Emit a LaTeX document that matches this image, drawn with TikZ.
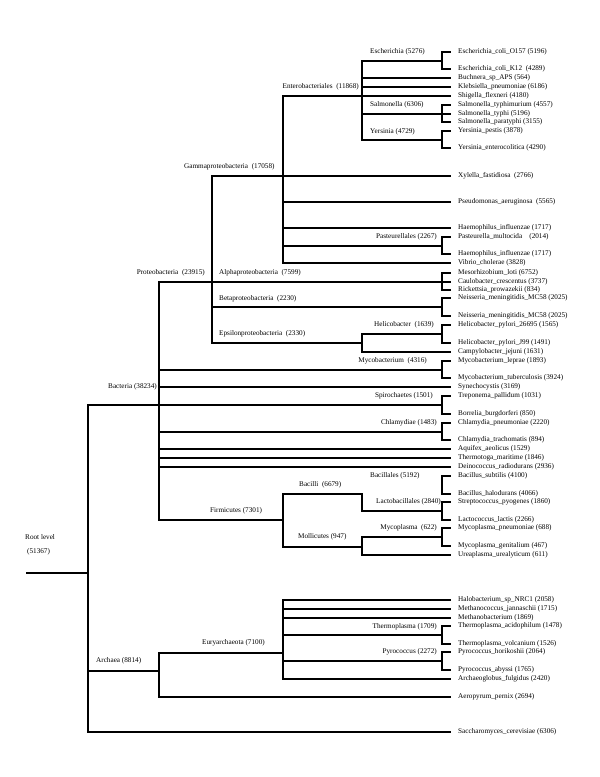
\documentclass[tikz,border=0pt]{standalone}
\usepackage{fontspec}
\setmainfont{Liberation Serif}
\usepackage{tikz}
\usetikzlibrary{calc, positioning}
\newcommand{\treefont}{\fontsize{7.2}{8}\selectfont}
\tikzset{
    leafnode/.style = {draw=none, fill=none, rectangle, anchor=west, inner xsep=8pt, inner ysep=0pt, font=\treefont},
    groupnode/.style = {draw=none, fill=none, rectangle, inner sep=0pt, font=\treefont},
    branch/.style = {black, line width=1.4pt, line cap=rect, line join=miter}
}

\begin{document}
\begin{tikzpicture}[x=1pt, y=-1pt]
\useasboundingbox (0,0) rectangle (600,777);

% leaves
\node [leafnode, name=esc1] at (450,52) {Escherichia\_coli\_O157 (5196)};
\node [leafnode, name=esc2] at (450,69) {Escherichia\_coli\_K12\ \ (4289)};
\node [leafnode, name=buch] at (450,78) {Buchnera\_sp\_APS (564)};
\node [leafnode, name=kleb] at (450,87) {Klebsiella\_pneumoniae (6186)};
\node [leafnode, name=shig] at (450,96) {Shigella\_flexneri (4180)};
\node [leafnode, name=sal1] at (450,105) {Salmonella\_typhimurium (4557)};
\node [leafnode, name=sal2] at (450,114) {Salmonella\_typhi (5196)};
\node [leafnode, name=sal3] at (450,122) {Salmonella\_paratyphi (3155)};
\node [leafnode, name=yer1] at (450,131) {Yersinia\_pestis (3878)};
\node [leafnode, name=yer2] at (450,148) {Yersinia\_enterocolitica (4290)};
\node [leafnode, name=xyl] at (450,176) {Xylella\_fastidiosa\ \ (2766)};
\node [leafnode, name=pse] at (450,202) {Pseudomonas\_aeruginosa\ \ (5565)};
\node [leafnode, name=hae1] at (450,228) {Haemophilus\_influenzae (1717)};
\node [leafnode, name=pas] at (450,237) {Pasteurella\_multocida\ \ \ \ (2014)};
\node [leafnode, name=hae2] at (450,254) {Haemophilus\_influenzae (1717)};
\node [leafnode, name=vib] at (450,263) {Vibrio\_cholerae (3828)};
\node [leafnode, name=mes] at (450,273) {Mesorhizobium\_loti (6752)};
\node [leafnode, name=cau] at (450,282) {Caulobacter\_crescentus (3737)};
\node [leafnode, name=ric] at (450,290) {Rickettsia\_prowazekii (834)};
\node [leafnode, name=nei1] at (450,298) {Neisseria\_meningitidis\_MC58 (2025)};
\node [leafnode, name=nei2] at (450,316) {Neisseria\_meningitidis\_MC58 (2025)};
\node [leafnode, name=hel1] at (450,325) {Helicobacter\_pylori\_26695 (1565)};
\node [leafnode, name=hel2] at (450,343) {Helicobacter\_pylori\_J99 (1491)};
\node [leafnode, name=cam] at (450,352) {Campylobacter\_jejuni (1631)};
\node [leafnode, name=myc1] at (450,361) {Mycobacterium\_leprae (1893)};
\node [leafnode, name=myc2] at (450,378) {Mycobacterium\_tuberculosis (3924)};
\node [leafnode, name=syn] at (450,387) {Synechocystis (3169)};
\node [leafnode, name=tre] at (450,396) {Treponema\_pallidum (1031)};
\node [leafnode, name=bor] at (450,414) {Borrelia\_burgdorferi (850)};
\node [leafnode, name=chl1] at (450,423) {Chlamydia\_pneumoniae (2220)};
\node [leafnode, name=chl2] at (450,440) {Chlamydia\_trachomatis (894)};
\node [leafnode, name=aqu] at (450,449) {Aquifex\_aeolicus (1529)};
\node [leafnode, name=thm] at (450,458) {Thermotoga\_maritime (1846)};
\node [leafnode, name=dei] at (450,467) {Deinococcus\_radiodurans (2936)};
\node [leafnode, name=bsu] at (450,476) {Bacillus\_subtilis (4100)};
\node [leafnode, name=bha] at (450,494) {Bacillus\_halodurans (4066)};
\node [leafnode, name=str] at (450,502) {Streptococcus\_pyogenes (1860)};
\node [leafnode, name=lac] at (450,520) {Lactococcus\_lactis (2266)};
\node [leafnode, name=mpn] at (450,528) {Mycoplasma\_pneumoniae (688)};
\node [leafnode, name=mge] at (450,546) {Mycoplasma\_genitalium (467)};
\node [leafnode, name=ure] at (450,555) {Ureaplasma\_urealyticum (611)};
\node [leafnode, name=hal] at (450,600) {Halobacterium\_sp\_NRC1 (2058)};
\node [leafnode, name=mja] at (450,609) {Methanococcus\_jannaschii (1715)};
\node [leafnode, name=mba] at (450,618) {Methanobacterium (1869)};
\node [leafnode, name=tac] at (450,626) {Thermoplasma\_acidophilum (1478)};
\node [leafnode, name=tvo] at (450,644) {Thermoplasma\_volcanium (1526)};
\node [leafnode, name=pho] at (450,652) {Pyrococcus\_horikoshii (2064)};
\node [leafnode, name=pab] at (450,670) {Pyrococcus\_abyssi (1765)};
\node [leafnode, name=afu] at (450,679) {Archaeoglobus\_fulgidus (2420)};
\node [leafnode, name=ape] at (450,697) {Aeropyrum\_pernix (2694)};
\node [leafnode, name=sce] at (450,732) {Saccharomyces\_cerevisiae (6306)};

% group labels
\node [groupnode, anchor=west, name=escL] at (370,52) {Escherichia (5276)};
\node [groupnode, anchor=east, name=entL] at (359,87) {Enterobacteriales\ \ (11868)};
\node [groupnode, anchor=west, name=salL] at (370,105) {Salmonella (6306)};
\node [groupnode, anchor=west, name=yerL] at (370,132) {Yersinia (4729)};
\node [groupnode, anchor=west, name=gamL] at (184,167) {Gammaproteobacteria\ \ (17058)};
\node [groupnode, anchor=east, name=pasL] at (437,237) {Pasteurellales (2267)};
\node [groupnode, anchor=east, name=proL] at (205,273) {Proteobacteria\ \ (23915)};
\node [groupnode, anchor=west, name=alpL] at (219,273) {Alphaproteobacteria\ \ (7599)};
\node [groupnode, anchor=west, name=betL] at (219,299) {Betaproteobacteria\ \ (2230)};
\node [groupnode, anchor=west, name=epsL] at (219,334) {Epsilonproteobacteria\ \ (2330)};
\node [groupnode, anchor=east, name=helL] at (434,325) {Helicobacter\ \ (1639)};
\node [groupnode, anchor=east, name=mycL] at (427,361) {Mycobacterium\ \ (4316)};
\node [groupnode, anchor=east, name=bacL] at (157,387) {Bacteria (38234)};
\node [groupnode, anchor=east, name=spiL] at (433,396) {Spirochaetes (1501)};
\node [groupnode, anchor=east, name=chlL] at (437,423) {Chlamydiae (1483)};
\node [groupnode, anchor=west, name=bllL] at (370,476) {Bacillales (5192)};
\node [groupnode, anchor=west, name=bciL] at (299,485) {Bacilli\ \ (6679)};
\node [groupnode, anchor=east, name=lacL] at (441,502) {Lactobacillales (2840)};
\node [groupnode, anchor=west, name=firL] at (210,511) {Firmicutes (7301)};
\node [groupnode, anchor=west, name=molL] at (298,537) {Mollicutes (947)};
\node [groupnode, anchor=east, name=mypL] at (437,528) {Mycoplasma\ \ (622)};
\node [groupnode, anchor=east, name=thpL] at (437,627) {Thermoplasma (1709)};
\node [groupnode, anchor=east, name=pyrL] at (437,652) {Pyrococcus (2272)};
\node [groupnode, anchor=west, name=eurL] at (202,643) {Euryarchaeota (7100)};
\node [groupnode, anchor=west, name=arcL] at (96,661) {Archaea (8814)};
\node [groupnode, anchor=west, name=rootL] at (25,537) {Root level};
\node [groupnode, anchor=west, name=rootN] at (27,552) {(51367)};

% junctions
\coordinate (rootS) at (27,573);
\coordinate (rootV) at (88,573);
\coordinate (bacV) at (159,387);
\coordinate (gamV) at (212,176);
\coordinate (entV) at (283,96);
\coordinate (genV) at (362,96);
\coordinate (epsV) at (362,343);
\coordinate (firV) at (283,520);
\coordinate (bciV) at (362,494);
\coordinate (molV) at (362,547);
\coordinate (arcV) at (159,671);
\coordinate (eurV) at (283,653);

% brackets
\coordinate (escB) at (442,61);
\coordinate (salB) at (442,114);
\coordinate (yerB) at (442,140);
\coordinate (pasB) at (442,246);
\coordinate (alpB) at (442,282);
\coordinate (betB) at (442,307);
\coordinate (helB) at (442,334);
\coordinate (mycB) at (442,370);
\coordinate (spiB) at (442,405);
\coordinate (chlB) at (442,432);
\coordinate (bllB) at (442,485);
\coordinate (lacB) at (442,511);
\coordinate (mypB) at (442,537);
\coordinate (thpB) at (442,635);
\coordinate (pyrB) at (442,661);

\draw [branch] (esc1.west) -- (escB |- esc1.west) -- (escB |- esc2.west) -- (esc2.west);
\draw [branch] (sal1.west) -- (salB |- sal1.west) -- (salB |- sal3.west) -- (sal3.west);
\draw [branch] (salB |- sal2.west) -- (sal2.west);
\draw [branch] (yer1.west) -- (yerB |- yer1.west) -- (yerB |- yer2.west) -- (yer2.west);
\draw [branch] (pas.west) -- (pasB |- pas.west) -- (pasB |- hae2.west) -- (hae2.west);
\draw [branch] (mes.west) -- (alpB |- mes.west) -- (alpB |- ric.west) -- (ric.west);
\draw [branch] (alpB |- cau.west) -- (cau.west);
\draw [branch] (nei1.west) -- (betB |- nei1.west) -- (betB |- nei2.west) -- (nei2.west);
\draw [branch] (hel1.west) -- (helB |- hel1.west) -- (helB |- hel2.west) -- (hel2.west);
\draw [branch] (myc1.west) -- (mycB |- myc1.west) -- (mycB |- myc2.west) -- (myc2.west);
\draw [branch] (tre.west) -- (spiB |- tre.west) -- (spiB |- bor.west) -- (bor.west);
\draw [branch] (chl1.west) -- (chlB |- chl1.west) -- (chlB |- chl2.west) -- (chl2.west);
\draw [branch] (bsu.west) -- (bllB |- bsu.west) -- (bllB |- bha.west) -- (bha.west);
\draw [branch] (str.west) -- (lacB |- str.west) -- (lacB |- lac.west) -- (lac.west);
\draw [branch] (mpn.west) -- (mypB |- mpn.west) -- (mypB |- mge.west) -- (mge.west);
\draw [branch] (tac.west) -- (thpB |- tac.west) -- (thpB |- tvo.west) -- (tvo.west);
\draw [branch] (pho.west) -- (pyrB |- pho.west) -- (pyrB |- pab.west) -- (pab.west);

% root
\draw [branch] (rootS) -- (rootV);
\draw [branch] (spiB) -- (rootV |- spiB) -- (rootV |- sce.west) -- (sce.west);
\draw [branch] (rootV |- arcV) -- (arcV);

% bacteria
\draw [branch] (alpB) -- (bacV |- alpB) -- (bacV |- firV) -- (firV);
\draw [branch] (bacV |- mycB) -- (mycB);
\draw [branch] (bacV) -- (syn.west);
\draw [branch] (bacV |- chlB) -- (chlB);
\draw [branch] (bacV |- aqu.west) -- (aqu.west);
\draw [branch] (bacV |- thm.west) -- (thm.west);
\draw [branch] (bacV |- dei.west) -- (dei.west);

% proteobacteria
\draw [branch] (xyl.west) -- (gamV) -- (gamV |- epsV) -- (epsV);
\draw [branch] (gamV |- betB) -- (betB);
\draw [branch] (shig.west) -- (entV) -- (entV |- vib.west) -- (vib.west);
\draw [branch] (entV |- pse.west) -- (pse.west);
\draw [branch] (entV |- hae1.west) -- (hae1.west);
\draw [branch] (entV |- pasB) -- (pasB);
\draw [branch] (escB) -- (genV |- escB) -- (genV |- yerB) -- (yerB);
\draw [branch] (genV |- buch.west) -- (buch.west);
\draw [branch] (genV |- kleb.west) -- (kleb.west);
\draw [branch] (genV |- salB) -- (salB);
\draw [branch] (helB) -- (epsV |- helB) -- (epsV |- cam.west) -- (cam.west);

% firmicutes
\draw [branch] (bciV) -- (firV |- bciV) -- (firV |- molV) -- (molV);
\draw [branch] (bciV) -- (bciV |- lacB) -- (lacB);
\draw [branch] (mypB) -- (molV |- mypB) -- (molV |- ure.west) -- (ure.west);

% archaea
\draw [branch] (eurV) -- (arcV |- eurV) -- (arcV |- ape.west) -- (ape.west);
\draw [branch] (hal.west) -- (eurV |- hal.west) -- (eurV |- afu.west) -- (afu.west);
\draw [branch] (eurV |- mja.west) -- (mja.west);
\draw [branch] (eurV |- mba.west) -- (mba.west);
\draw [branch] (eurV |- thpB) -- (thpB);
\draw [branch] (eurV |- pyrB) -- (pyrB);

\end{tikzpicture}
\end{document}
